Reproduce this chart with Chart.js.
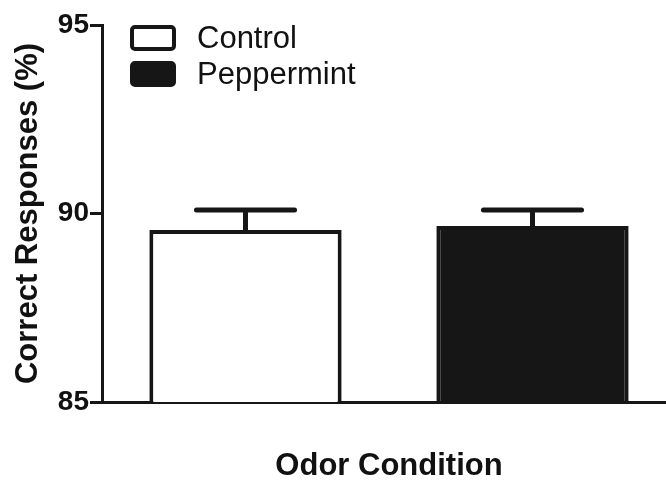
<!DOCTYPE html>
<html>
<head>
<meta charset="utf-8">
<script src="https://cdn.jsdelivr.net/npm/chart.js@4"></script>
<style>
  html, body { margin: 0; padding: 0; background: #fff; overflow: hidden; }
  #wrap { width: 666px; height: 484px; overflow: hidden; }
</style>
</head>
<body>
<div id="wrap"><canvas id="chart" width="676" height="484"></canvas></div>
<script>
/// Data
const categories = ["Control", "Peppermint"];
const meanValues = [89.56, 89.67];
const upperError = [0.53, 0.42];
const yTicks = [85, 90, 95];

const INK = "#161616";
const FONT = "'Liberation Sans', Arial, sans-serif";

// ── Error bars (upper only) ─────────────────────────────────────────
const errorBars = {
  id: "errorBars",
  afterDatasetsDraw(chart) {
    const meta = chart.getDatasetMeta(0);
    const y = chart.scales.y;
    const ctx = chart.ctx;
    ctx.save();
    ctx.strokeStyle = INK;
    ctx.lineWidth = 5;
    ctx.lineCap = "round";
    meta.data.forEach((bar, i) => {
      const top = y.getPixelForValue(meanValues[i] + upperError[i]);
      const half = bar.width * 0.255;
      ctx.beginPath();
      ctx.moveTo(bar.x, bar.y);
      ctx.lineTo(bar.x, top);
      ctx.moveTo(bar.x - half, top);
      ctx.lineTo(bar.x + half, top);
      ctx.stroke();
    });
    ctx.restore();
  }
};

// ── Legend drawn inside the plot area ───────────────────────────────
const insideLegend = {
  id: "insideLegend",
  afterDraw(chart) {
    const ctx = chart.ctx;
    const fills = chart.data.datasets[0].backgroundColor;
    const rows = [{ top: 25, base: 48 }, { top: 61, base: 84 }];
    ctx.save();
    categories.forEach((name, i) => {
      const r = rows[i];
      ctx.beginPath();
      ctx.roundRect(132, r.top + 2, 42, 22, 3);
      ctx.fillStyle = fills[i];
      ctx.fill();
      ctx.lineWidth = 4;
      ctx.strokeStyle = INK;
      ctx.stroke();
      ctx.fillStyle = "#111";
      ctx.font = "31px " + FONT;
      ctx.textBaseline = "alphabetic";
      ctx.fillText(name, 197, r.base);
    });
    ctx.restore();
  }
};

new Chart(document.getElementById("chart"), {
  type: "bar",
  data: {
    labels: categories,
    datasets: [{
      data: meanValues,
      backgroundColor: ["#ffffff", INK],
      borderColor: INK,
      borderWidth: 4,
      barPercentage: 0.67,
      categoryPercentage: 1.0
    }]
  },
  options: {
    responsive: false,
    animation: false,
    devicePixelRatio: 1,
    layout: { padding: { top: 25, right: 0, left: 0, bottom: 0 } },
    plugins: { legend: { display: false }, tooltip: { enabled: false } },
    scales: {
      x: {
        grid: { display: false, drawTicks: false },
        border: { display: true, color: INK, width: 3 },
        ticks: { display: false },
        title: {
          display: true,
          text: "Odor Condition",
          color: "#111",
          font: { family: FONT, size: 31, weight: "bold", lineHeight: 1 },
          padding: { top: 0, bottom: 2 }
        },
        afterFit(scale) { scale.height = 82; }
      },
      y: {
        min: 85,
        max: 95,
        afterBuildTicks(scale) { scale.ticks = yTicks.map(v => ({ value: v })); },
        grid: {
          drawOnChartArea: false,
          drawTicks: true,
          tickLength: 12,
          tickWidth: 3,
          tickColor: INK
        },
        border: { display: true, color: INK, width: 3 },
        ticks: {
          color: "#111",
          padding: 1,
          font: { family: FONT, size: 28, weight: "bold" }
        },
        title: {
          display: true,
          text: "Correct Responses (%)",
          color: "#111",
          font: { family: FONT, size: 31, weight: "bold", lineHeight: 1 },
          padding: { top: 13, bottom: 0 }
        },
        afterFit(scale) { scale.width = 102; }
      }
    }
  },
  plugins: [errorBars, insideLegend]
});
</script>
</body>
</html>
